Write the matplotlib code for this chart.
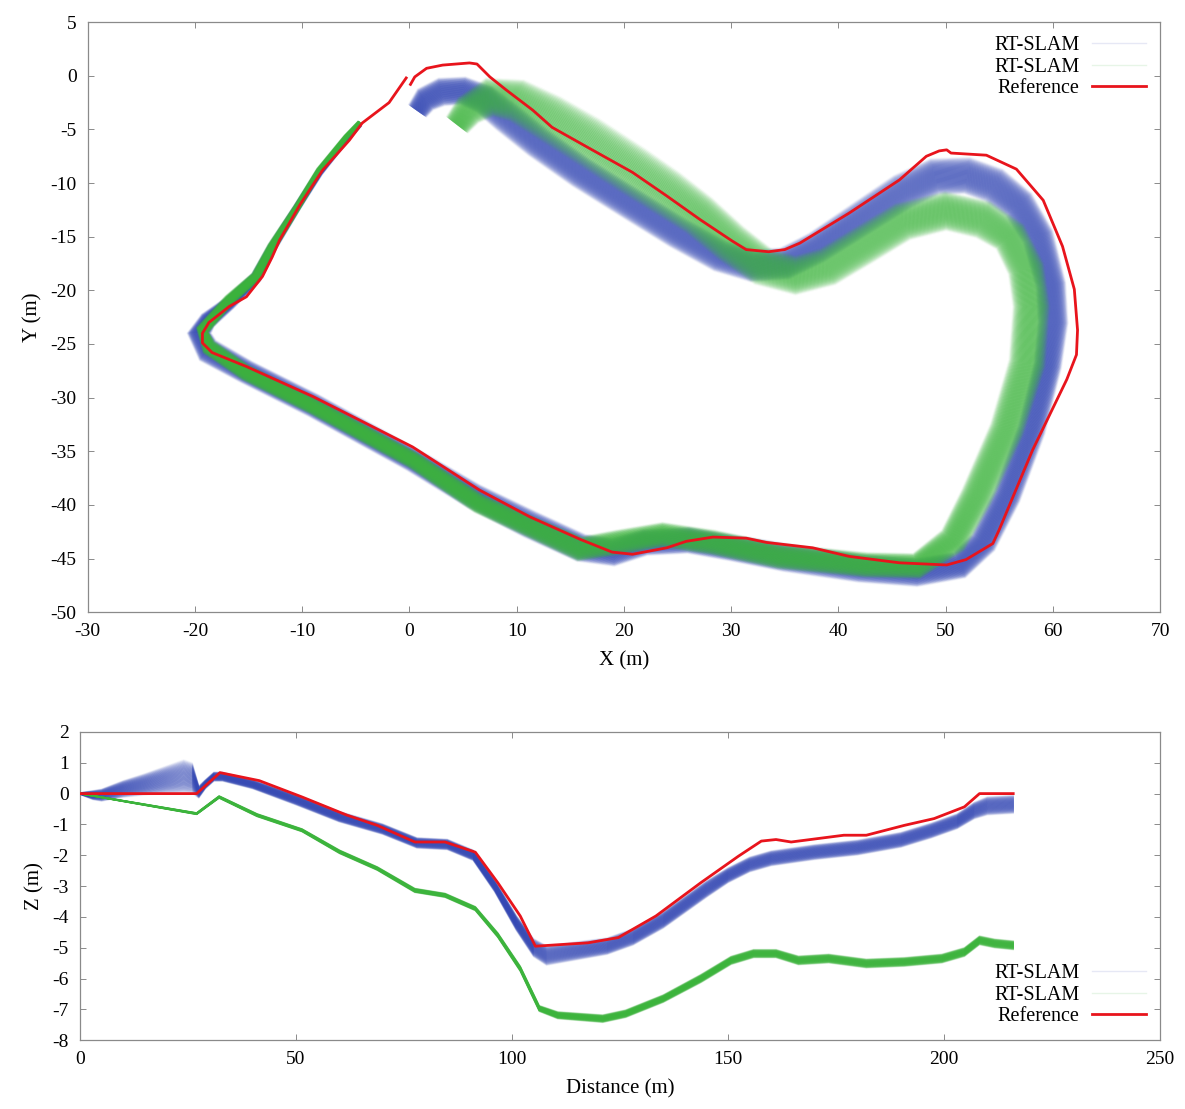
import numpy as np
import matplotlib; matplotlib.use('Agg')
import matplotlib.pyplot as plt
from matplotlib.lines import Line2D

plt.rcParams['font.family'] = ['Liberation Serif', 'DejaVu Serif']
plt.rcParams['axes.unicode_minus'] = False

BLUE  = '#3448b4'
GREEN = '#3cb43c'
RED   = '#e8141c'

# ---- top plot: XY trajectories (mean path + bundle width, metres) ----
blue_x = [0.8, 1.5, 3.0, 5.0, 7.0, 9.0, 12.0, 16.0, 20.8, 25.0, 29.0, 32.0, 35.0, 38.0,
          42.0, 46.0, 49.0, 52.0, 54.5, 56.8, 58.6, 59.8, 60.0, 59.5, 58.0, 55.7, 53.5,
          51.3, 47.3, 42.0, 35.0, 30.0, 26.0, 22.0, 19.0, 16.0, 11.2, 6.0, 0.3, -9.0,
          -15.2, -18.8, -19.6, -18.8, -16.8, -14.3, -12.8, -10.5, -8.4, -5.9, -4.7]
blue_y = [-3.2, -2.2, -1.5, -1.4, -2.2, -3.8, -6.2, -9.0, -12.0, -14.6, -16.8, -17.7, -17.5,
          -16.0, -13.4, -10.8, -9.4, -9.3, -10.2, -12.0, -15.0, -19.5, -23.0, -27.0, -33.0,
          -39.2, -43.5, -45.6, -46.3, -45.9, -44.9, -44.0, -43.3, -43.5, -44.4, -44.0, -41.8,
          -39.2, -35.8, -30.7, -27.6, -25.6, -24.0, -22.8, -21.2, -18.8, -16.0, -12.3, -9.0,
          -5.9, -4.6]
blue_w = [2.0, 2.4, 2.6, 2.6, 2.8, 3.0, 3.0, 3.0, 3.0, 3.0, 3.0, 3.0, 3.0, 3.0, 3.2, 3.4,
          3.4, 3.4, 3.4, 3.2, 3.0, 2.8, 2.8, 2.6, 2.6, 2.6, 2.6, 2.6, 2.6, 2.6, 2.6, 2.4,
          2.4, 2.4, 2.6, 2.6, 2.6, 2.4, 2.2, 2.2, 2.2, 2.4, 2.2, 1.6, 1.2, 1.0, 0.8, 0.6,
          0.6, 0.5, 0.4]

green_x = [4.5, 5.5, 7.5, 10.0, 13.0, 16.5, 20.8, 24.0, 27.0, 30.0, 33.0, 36.0, 39.0, 42.0,
           46.0, 50.0, 53.5, 56.0, 57.5, 58.0, 57.6, 55.7, 52.9, 50.7, 47.3, 42.6, 34.5,
           28.3, 23.6, 19.5, 15.9, 11.2, 6.5, 0.3, -9.0, -15.2, -18.7, -19.3, -16.8, -14.3,
           -12.8, -10.5, -8.4, -5.9, -4.7]
green_y = [-4.5, -3.2, -2.0, -2.3, -3.9, -6.0, -8.8, -10.9, -13.0, -15.6, -17.8, -18.6,
           -17.8, -16.0, -13.6, -12.6, -13.4, -15.0, -18.0, -21.5, -26.8, -33.0, -39.2,
           -43.3, -45.7, -45.6, -44.8, -43.5, -42.8, -43.5, -44.1, -42.0, -39.9, -35.8,
           -30.8, -27.7, -25.3, -23.7, -20.9, -18.7, -15.9, -12.3, -8.8, -5.7, -4.4]
green_w = [2.5, 3.0, 3.6, 4.0, 4.4, 4.6, 4.6, 4.4, 4.0, 3.8, 3.6, 3.6, 3.6, 3.6, 3.6, 3.6,
           3.6, 3.4, 3.4, 3.4, 3.4, 3.2, 3.0, 2.8, 2.4, 2.3, 2.3, 2.3, 2.3, 2.3, 2.3, 2.0,
           1.8, 1.6, 1.5, 1.5, 1.5, 1.2, 1.0, 0.9, 0.8, 0.6, 0.5, 0.4, 0.3]

ref_x = [0.1, 0.5, 1.6, 3.1, 5.6, 6.3, 7.5, 9.0, 11.5, 13.3, 16.5, 20.8, 24.0, 27.1, 30.1,
         31.4, 33.5, 35.0, 36.4, 41.0, 45.7, 48.2, 49.4, 50.1, 50.5, 53.8, 56.6, 59.1, 60.9,
         62.0, 62.3, 62.2, 61.3, 58.1, 55.0, 54.4, 51.9, 50.1, 45.7, 41.0, 37.6, 33.3, 31.4,
         28.3, 25.8, 24.0, 20.8, 18.9, 15.9, 11.2, 6.5, 0.3, -9.0, -15.2, -18.4, -19.3,
         -19.3, -18.7, -16.8, -15.2, -13.7, -12.8, -12.1, -10.2, -8.1, -5.6, -4.4, -1.9, -0.3]
ref_y = [-0.8, -0.1, 0.7, 1.0, 1.2, 1.1, -0.1, -1.3, -3.2, -4.8, -6.6, -9.0, -11.2, -13.4,
         -15.4, -16.2, -16.4, -16.2, -15.6, -12.8, -9.7, -7.5, -7.0, -6.9, -7.2, -7.4, -8.7,
         -11.6, -15.9, -19.9, -23.7, -26.0, -28.3, -34.9, -42.3, -43.6, -45.1, -45.6, -45.4,
         -44.8, -44.0, -43.5, -43.1, -43.0, -43.4, -44.0, -44.6, -44.4, -43.2, -41.1, -38.6,
         -34.6, -29.9, -27.1, -25.8, -24.9, -24.0, -23.0, -21.5, -20.6, -18.7, -16.9, -15.3,
         -12.0, -8.8, -6.0, -4.4, -2.5, -0.2]

# ---- bottom plot: Z vs travelled distance ----
bz_d = [0, 3, 5, 10, 15, 20, 24, 26, 27.5, 29, 31, 33, 40, 50, 60, 70, 78, 85, 91, 96, 101,
        105, 108, 115, 122, 128, 135, 145, 150, 155, 160, 170, 180, 190, 197, 203, 207, 210,
        216]
bz_z = [0.0, -0.05, -0.05, 0.15, 0.3, 0.45, 0.55, 0.5, 0.05, 0.3, 0.55, 0.55, 0.3, -0.2,
        -0.75, -1.15, -1.6, -1.65, -2.0, -3.0, -4.2, -5.0, -5.25, -5.1, -4.95, -4.65, -4.1,
        -3.1, -2.65, -2.3, -2.1, -1.9, -1.75, -1.5, -1.2, -0.9, -0.55, -0.4, -0.35]
bz_w = [0.05, 0.3, 0.4, 0.55, 0.7, 0.9, 1.1, 1.0, 0.4, 0.3, 0.3, 0.3, 0.3, 0.35, 0.35, 0.35,
        0.35, 0.35, 0.35, 0.4, 0.5, 0.6, 0.65, 0.6, 0.55, 0.55, 0.55, 0.55, 0.5, 0.5, 0.5,
        0.5, 0.5, 0.5, 0.5, 0.5, 0.55, 0.6, 0.6]

gz_d = [0, 27, 32.2, 41, 51.4, 60.1, 68.8, 77.5, 84.5, 91.5, 96.7, 101.9, 106.3, 110.6, 121,
        126.3, 135, 143.7, 150.7, 155.9, 161.1, 166.3, 173.3, 182, 190.8, 199.5, 204.7,
        208.2, 211.7, 216]
gz_z = [0.0, -0.65, -0.11, -0.7, -1.19, -1.89, -2.43, -3.14, -3.3, -3.73, -4.59, -5.68,
        -6.97, -7.19, -7.3, -7.14, -6.65, -6.0, -5.41, -5.19, -5.19, -5.41, -5.35, -5.51,
        -5.46, -5.35, -5.14, -4.76, -4.86, -4.92]
gz_w = [0.02, 0.06, 0.08, 0.1, 0.1, 0.12, 0.12, 0.14, 0.14, 0.14, 0.16, 0.18, 0.2, 0.24,
        0.26, 0.26, 0.26, 0.28, 0.28, 0.28, 0.28, 0.3, 0.3, 0.3, 0.3, 0.3, 0.3, 0.3,
        0.3, 0.3]

rz_d = [0, 27, 32.4, 41.5, 51.4, 61.8, 68.8, 77.5, 84.5, 91.5, 96.7, 101.9, 105.4, 117.6,
        124.6, 133.3, 143.7, 152.4, 157.7, 161.1, 164.6, 176.8, 182, 190.8, 197.7, 204.7,
        208.2, 216]
rz_z = [0, 0, 0.68, 0.42, -0.11, -0.70, -1.03, -1.57, -1.57, -1.9, -2.89, -3.97, -4.95,
        -4.84, -4.67, -3.97, -2.89, -2.03, -1.54, -1.49, -1.57, -1.35, -1.35, -1.03, -0.81,
        -0.43, 0.0, 0.0]

N_TRAJ = 41


def line_alpha(o):
    # solid core, faded outer trajectories
    return 0.04 + 0.42 * (1 - abs(2 * o) ** 3)


def bundle_xy(ax, xs, ys, ws, color):
    x = np.asarray(xs, float); y = np.asarray(ys, float); w = np.asarray(ws, float)
    dx, dy = np.gradient(x), np.gradient(y)
    n = np.hypot(dx, dy); nx, ny = -dy / n, dx / n
    for o in np.linspace(-0.5, 0.5, N_TRAJ):
        ax.plot(x + o * w * nx, y + o * w * ny, color=color, lw=1.6, alpha=line_alpha(o),
                solid_joinstyle='round', zorder=2)


def bundle_z(ax, ds, zs, ws, color):
    d = np.asarray(ds, float); z = np.asarray(zs, float); w = np.asarray(ws, float)
    for o in np.linspace(-0.5, 0.5, N_TRAJ):
        ax.plot(d, z + o * w, color=color, lw=1.0, alpha=line_alpha(o), zorder=2)


def style(ax):
    for s in ax.spines.values():
        s.set_color('#8a8a8a'); s.set_linewidth(0.9)
    ax.tick_params(direction='in', top=True, right=True, length=4, width=0.7,
                   color='#8a8a8a', labelsize=14, pad=8)


def legend(ax, loc):
    handles = [Line2D([], [], color=BLUE, lw=1, alpha=0.12),
               Line2D([], [], color=GREEN, lw=1, alpha=0.12),
               Line2D([], [], color=RED, lw=2)]
    ax.legend(handles, ['RT-SLAM', 'RT-SLAM', 'Reference'], loc=loc, frameon=False,
              markerfirst=False, fontsize=14.5, handlelength=2.7, labelspacing=0.12,
              handletextpad=0.6, borderaxespad=0.3)


fig = plt.figure(figsize=(11.85, 11.09), dpi=100)

ax1 = fig.add_axes([0.074, 0.448, 0.905, 0.532])
bundle_xy(ax1, blue_x, blue_y, blue_w, BLUE)
bundle_xy(ax1, green_x, green_y, green_w, GREEN)
ax1.plot(ref_x, ref_y, color=RED, lw=2, zorder=3)
ax1.set_xlim(-30, 70); ax1.set_ylim(-50, 5)
ax1.set_xticks(np.arange(-30, 71, 10)); ax1.set_yticks(np.arange(-50, 6, 5))
ax1.set_xlabel('X (m)', fontsize=15, labelpad=8)
ax1.set_ylabel('Y (m)', fontsize=15, labelpad=6)
style(ax1)
legend(ax1, 'upper right')

ax2 = fig.add_axes([0.0675, 0.062, 0.9115, 0.278])
bundle_z(ax2, bz_d, bz_z, bz_w, BLUE)
bundle_z(ax2, gz_d, gz_z, gz_w, GREEN)
ax2.plot(rz_d, rz_z, color=RED, lw=2, zorder=3)
ax2.set_xlim(0, 250); ax2.set_ylim(-8, 2)
ax2.set_xticks(np.arange(0, 251, 50)); ax2.set_yticks(np.arange(-8, 3, 1))
ax2.set_xlabel('Distance (m)', fontsize=15, labelpad=8)
ax2.set_ylabel('Z (m)', fontsize=15, labelpad=6)
style(ax2)
legend(ax2, 'lower right')

fig.savefig('out.png', dpi=100, facecolor='white')
